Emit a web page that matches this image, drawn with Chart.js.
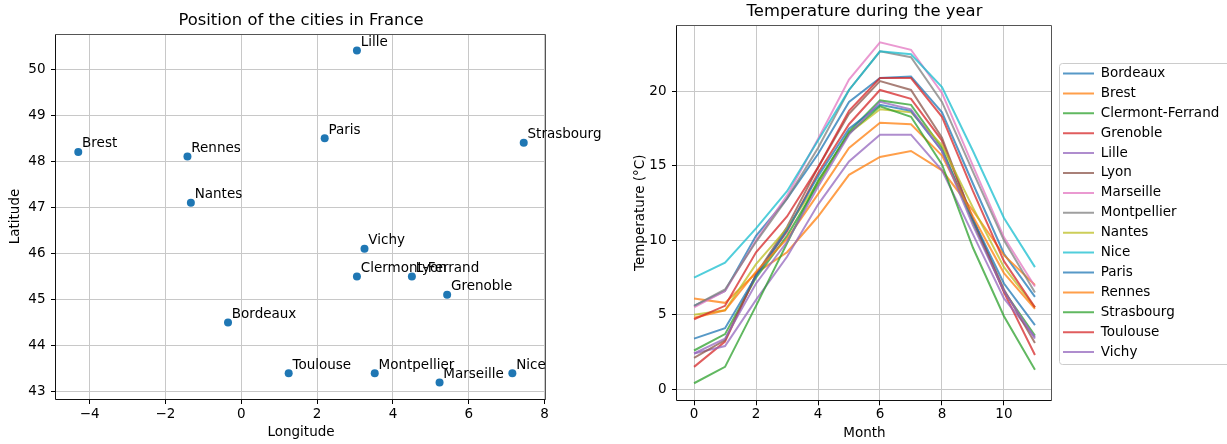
<!DOCTYPE html>
<html>
<head>
<meta charset="utf-8">
<script src="https://cdn.jsdelivr.net/npm/chart.js@4.4.0/dist/chart.umd.min.js"></script>
<style>
html, body { margin: 0; padding: 0; background: #fff; width: 1227px; height: 444px; overflow: hidden; }
#mapChart { position: absolute; left: 0; top: 0; }
#tempChart { position: absolute; left: 620px; top: 0; }
</style>
</head>
<body>
<canvas id="mapChart" width="620" height="444"></canvas>
<canvas id="tempChart" width="620" height="444"></canvas>
<script>
// villes et coordonnées
var cities = ['Bordeaux', 'Brest', 'Clermont-Ferrand', 'Grenoble', 'Lille', 'Lyon', 'Marseille', 'Montpellier',
              'Nantes', 'Nice', 'Paris', 'Rennes', 'Strasbourg', 'Toulouse', 'Vichy'];
var longitude = [-0.35, -4.3, 3.05, 5.43, 3.05, 4.5, 5.23, 3.52, -1.33, 7.15, 2.2, -1.42, 7.45, 1.25, 3.25];
var latitude = [44.5, 48.2, 45.5, 45.1, 50.4, 45.5, 43.2, 43.4, 47.1, 43.4, 48.5, 48.1, 48.4, 43.4, 46.1];

// températures mensuelles
var months = [0, 1, 2, 3, 4, 5, 6, 7, 8, 9, 10, 11];
var tBordeaux = [5.6, 6.6, 10.3, 12.8, 15.8, 19.3, 20.9, 21.0, 18.6, 13.8, 9.1, 6.2];
var tBrest = [6.1, 5.8, 7.8, 9.2, 11.6, 14.4, 15.6, 16.0, 14.7, 12.0, 9.0, 7.0];
var tClermont = [2.6, 3.7, 7.5, 10.3, 13.8, 17.3, 19.4, 19.1, 16.2, 11.2, 6.6, 3.6];
var tGrenoble = [1.5, 3.2, 7.7, 10.6, 14.5, 17.8, 20.1, 19.5, 16.7, 11.4, 6.5, 2.3];
var tLille = [2.4, 2.9, 6.0, 8.9, 12.4, 15.3, 17.1, 17.1, 14.7, 10.4, 6.1, 3.5];
var tLyon = [2.1, 3.3, 7.7, 10.9, 14.9, 18.5, 20.7, 20.1, 16.9, 11.4, 6.7, 3.1];
var tMarseille = [5.5, 6.6, 10.0, 13.0, 16.8, 20.8, 23.3, 22.8, 19.9, 15.0, 10.2, 6.9];
var tMontpellier = [5.6, 6.7, 9.9, 12.8, 16.2, 20.1, 22.7, 22.3, 19.3, 14.6, 10.0, 6.5];
var tNantes = [5.0, 5.3, 8.4, 10.8, 13.9, 17.2, 18.8, 18.6, 16.4, 12.2, 8.2, 5.5];
var tNice = [7.5, 8.5, 10.8, 13.3, 16.7, 20.1, 22.7, 22.5, 20.3, 16.0, 11.5, 8.2];
var tParis = [3.4, 4.1, 7.6, 10.7, 14.3, 17.5, 19.1, 18.7, 16.0, 11.4, 7.1, 4.3];
var tRennes = [4.8, 5.3, 7.9, 10.1, 13.1, 16.2, 17.9, 17.8, 15.7, 11.6, 7.8, 5.4];
var tStrasbourg = [0.4, 1.5, 5.6, 9.8, 14.0, 17.2, 19.0, 18.3, 15.1, 9.5, 4.9, 1.3];
var tToulouse = [4.7, 5.6, 9.2, 11.6, 14.9, 18.7, 20.9, 20.9, 18.3, 13.3, 8.6, 5.5];
var tVichy = [2.4, 3.4, 7.1, 9.9, 13.6, 17.1, 19.3, 18.8, 16.0, 11.0, 6.6, 3.4];
var temperatures = [tBordeaux, tBrest, tClermont, tGrenoble, tLille, tLyon, tMarseille, tMontpellier,
                    tNantes, tNice, tParis, tRennes, tStrasbourg, tToulouse, tVichy];

// graduations
var lonTicks = [-4, -2, 0, 2, 4, 6, 8];
var latTicks = [43, 44, 45, 46, 47, 48, 49, 50];
var monthTicks = [0, 2, 4, 6, 8, 10];
var tempTicks = [0, 5, 10, 15, 20];

var palette = ['#1f77b4', '#ff7f0e', '#2ca02c', '#d62728', '#9467bd', '#8c564b', '#e377c2', '#7f7f7f', '#bcbd22', '#17becf'];
var gridColor = '#c8c8c8';
var FONT = "'DejaVu Sans', sans-serif";
var fs = 13.5;

Chart.defaults.font.family = FONT;
Chart.defaults.font.size = fs;
Chart.defaults.color = '#000';

function withAlpha(hex, a) {
    var n = parseInt(hex.slice(1), 16);
    return 'rgba(' + (n >> 16) + ',' + ((n >> 8) & 255) + ',' + (n & 255) + ',' + a + ')';
}
function minus(v) { return v < 0 ? '\u2212' + Math.abs(v) : String(v); }
function margins(arr) {
    var lo = Math.min.apply(null, arr), hi = Math.max.apply(null, arr), m = (hi - lo) * 0.05;
    return [lo - m, hi + m];
}
function fixedTicks(list) {
    return function (s) { s.ticks = list.map(function (v) { return { value: v }; }); };
}

// cadre des axes
var axesFrame = {
    id: 'axesFrame',
    afterDatasetsDraw: function (chart) {
        var ctx = chart.ctx, a = chart.chartArea;
        var l = Math.round(a.left) - 0.5, r = Math.round(a.right) - 0.5;
        var t = Math.round(a.top) + 0.5, b = Math.round(a.bottom) + 0.5;
        ctx.save();
        ctx.lineWidth = 1;
        ctx.strokeStyle = '#555';
        ctx.beginPath(); ctx.moveTo(l, t); ctx.lineTo(r, t); ctx.lineTo(r, b); ctx.stroke();
        ctx.strokeStyle = '#111';
        ctx.beginPath(); ctx.moveTo(l, t); ctx.lineTo(l, b); ctx.lineTo(r, b); ctx.stroke();
        ctx.restore();
    }
};

// noms des villes à côté des points
var cityLabels = {
    id: 'cityLabels',
    afterDraw: function (chart) {
        var ctx = chart.ctx, x = chart.scales.x, y = chart.scales.y;
        ctx.save();
        ctx.font = fs + 'px ' + FONT;
        ctx.fillStyle = '#000';
        ctx.textAlign = 'left';
        ctx.textBaseline = 'alphabetic';
        cities.forEach(function (c, i) {
            ctx.fillText(c, x.getPixelForValue(longitude[i] + 0.1), y.getPixelForValue(latitude[i] + 0.1));
        });
        ctx.restore();
    }
};

var lonRange = margins(longitude);
var latRange = margins(latitude);

var mapChart = new Chart(document.getElementById('mapChart').getContext('2d'), {
    type: 'scatter',
    data: {
        datasets: [{
            data: cities.map(function (c, i) { return { x: longitude[i], y: latitude[i] }; }),
            backgroundColor: '#1f77b4',
            borderWidth: 0,
            pointRadius: 4,
            pointHoverRadius: 4
        }]
    },
    options: {
        responsive: false,
        animation: false,
        layout: { padding: { left: 0, top: 0, right: 74, bottom: 0 } },
        plugins: {
            legend: { display: false },
            tooltip: { enabled: false },
            title: {
                display: true,
                fullSize: false,
                text: 'Position of the cities in France',
                color: '#000',
                font: { size: 16.4, weight: 'normal' },
                padding: { top: 10.8, bottom: 3.5 }
            }
        },
        scales: {
            x: {
                type: 'linear', min: lonRange[0], max: lonRange[1],
                afterBuildTicks: fixedTicks(lonTicks),
                afterFit: function (s) { s.height = 45; },
                ticks: { callback: minus, padding: 2.5, maxRotation: 0, autoSkip: false, color: '#000' },
                grid: { color: gridColor, tickColor: '#000', tickLength: 5 },
                border: { display: false },
                title: { display: true, text: 'Longitude', color: '#000', padding: { top: 0, bottom: 3.9 } }
            },
            y: {
                type: 'linear', min: latRange[0], max: latRange[1],
                afterBuildTicks: fixedTicks(latTicks),
                afterFit: function (s) { s.width = 56; },
                ticks: { callback: minus, padding: 5.5, autoSkip: false, color: '#000' },
                grid: { color: gridColor, tickColor: '#000', tickLength: 5 },
                border: { display: false },
                title: { display: true, text: 'Latitude', color: '#000', padding: { top: 6.9, bottom: 0 } }
            }
        }
    },
    plugins: [axesFrame, cityLabels]
});

// cadre de la légende
var legendFrame = {
    id: 'legendFrame',
    beforeDraw: function (chart) {
        var lg = chart.legend, hb = lg && lg.legendHitBoxes;
        if (!hb || !hb.length) return;
        var ctx = chart.ctx;
        var top = Math.round(hb[0].top - 3.7) + 0.5;
        var bottom = Math.round(hb[hb.length - 1].top + hb[hb.length - 1].height + 5.6) + 0.5;
        var left = Math.round(lg.left + 2.4) + 0.5;
        var right = chart.width + 10;
        ctx.save();
        ctx.beginPath();
        ctx.roundRect(left, top, right - left, bottom - top, 3);
        ctx.fillStyle = 'rgba(255,255,255,0.8)';
        ctx.fill();
        ctx.strokeStyle = '#cccccc';
        ctx.lineWidth = 1;
        ctx.stroke();
        ctx.restore();
    }
};

var tempRange = margins([].concat.apply([], temperatures));
var monthRange = margins(months);
var legendPad = 6.4, legendLine = 31, areaRight = 432, gap = 4.6;

var mctx = document.createElement('canvas').getContext('2d');
mctx.font = 'normal normal ' + fs + 'px ' + FONT;
var widest = Math.max.apply(null, cities.map(function (c) { return mctx.measureText(c).width; }));
var guessPad = Math.max(0, 620 - areaRight - gap - (legendPad + legendLine + fs / 2 + widest) - 10);

var tempChart = new Chart(document.getElementById('tempChart').getContext('2d'), {
    type: 'line',
    data: {
        datasets: cities.map(function (c, i) {
            return {
                label: c,
                data: months.map(function (m, j) { return { x: m, y: temperatures[i][j] }; }),
                borderColor: withAlpha(palette[i % 10], 0.75),
                backgroundColor: withAlpha(palette[i % 10], 0.75),
                borderWidth: 2,
                pointRadius: 0,
                pointHoverRadius: 0,
                fill: false,
                tension: 0,
                order: cities.length - i
            };
        })
    },
    options: {
        responsive: false,
        animation: false,
        layout: { padding: { left: 0, top: 0, right: guessPad, bottom: 0 } },
        plugins: {
            tooltip: { enabled: false },
            title: {
                display: true,
                fullSize: false,
                text: 'Temperature during the year',
                color: '#000',
                font: { size: 16.4, weight: 'normal' },
                padding: { top: 2.2, bottom: 3.4 }
            },
            legend: {
                position: 'right',
                fullSize: false,
                maxWidth: 400,
                labels: {
                    usePointStyle: true,
                    pointStyle: 'line',
                    pointStyleWidth: legendLine,
                    padding: legendPad,
                    color: '#000',
                    font: { size: fs },
                    sort: function (a, b) { return a.datasetIndex - b.datasetIndex; }
                }
            }
        },
        scales: {
            x: {
                type: 'linear', min: monthRange[0], max: monthRange[1],
                afterBuildTicks: fixedTicks(monthTicks),
                afterFit: function (s) { s.height = 43.7; },
                ticks: { padding: 1.5, maxRotation: 0, autoSkip: false, color: '#000' },
                grid: { color: gridColor, tickColor: '#000', tickLength: 5 },
                border: { display: false },
                title: { display: true, text: 'Month', color: '#000', padding: { top: 0, bottom: 2.9 } }
            },
            y: {
                type: 'linear', min: tempRange[0], max: tempRange[1],
                afterBuildTicks: fixedTicks(tempTicks),
                afterFit: function (s) { s.width = 57; },
                ticks: { padding: 5.5, autoSkip: false, color: '#000' },
                grid: { color: gridColor, tickColor: '#000', tickLength: 5 },
                border: { display: false },
                title: { display: true, text: 'Temperature (°C)', color: '#000', padding: { top: 11.9, bottom: 0 } }
            },
            gap: {
                type: 'linear', position: 'right', axis: 'y',
                afterFit: function (s) { s.width = gap; },
                ticks: { display: false },
                grid: { display: false },
                border: { display: false }
            }
        }
    },
    plugins: [legendFrame, axesFrame]
});

// recaler la zone du graphique à droite
for (var k = 0; k < 3; k++) {
    var diff = tempChart.chartArea.right - areaRight;
    if (Math.abs(diff) < 0.05) break;
    tempChart.options.layout.padding.right = Math.max(0, tempChart.options.layout.padding.right + diff);
    tempChart.update();
}
</script>
</body>
</html>
